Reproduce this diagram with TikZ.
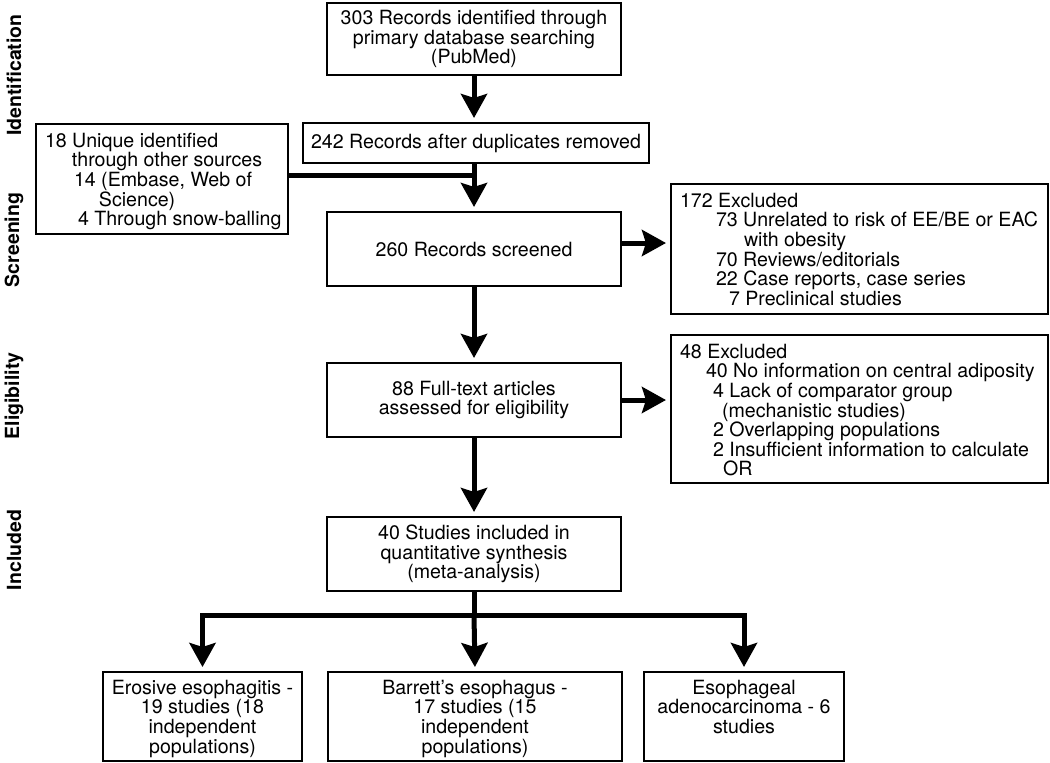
\documentclass[tikz,border=0pt]{standalone}
\usepackage{fontspec}
\setmainfont{TeX Gyre Heros}
\usetikzlibrary{arrows.meta}

\newcommand{\topbox}[3]{\parbox[c][#1][t]{#2}{#3}}

\tikzset{
  box/.style={draw, line width=2pt, inner sep=0pt, align=center,
    font=\fontsize{19.6pt}{19.6pt}\selectfont},
  tbox/.style={box, anchor=north west, inner xsep=9pt, inner ysep=9pt},
  cbox/.style={box, anchor=north west, inner xsep=2pt, inner ysep=8pt},
  arr/.style={line width=5pt, -{Stealth[length=24pt,width=26pt,inset=4pt]}, shorten >=4pt},
  link/.style={line width=5pt},
  phase/.style={rotate=90, font=\bfseries\fontsize{19.5pt}{19.5pt}\selectfont}
}

\begin{document}
\begin{tikzpicture}[x=1pt,y=-1pt]
\useasboundingbox (0,0) rectangle (1050,763);

% Phases
\node[phase] (pid) at (14,75) {Identification};
\node[phase] (pscr) at (14,240) {Screening};
\node[phase] (pelig) at (14,396) {Eligibility};
\node[phase] (pinc) at (14,550) {Included};

% Main column
\node[box, minimum width=294pt, minimum height=72pt] (b303) at (474,39)
  {303 Records identified through\\primary database searching\\(PubMed)};
\node[box, minimum width=346pt, minimum height=40pt] (b242) at (476,143)
  {242 Records after duplicates removed};
\node[box, minimum width=294pt, minimum height=74pt] (b260) at (474,249)
  {260 Records screened};
\node[box, minimum width=294pt, minimum height=74pt] (b88) at (474,400)
  {88 Full-text articles\\assessed for eligibility};
\node[box, minimum width=294pt, minimum height=74pt] (b40) at (474,554)
  {40 Studies included in\\quantitative synthesis\\(meta-analysis)};

% Side boxes
\node[tbox] (bother) at (35,123) {\topbox{92pt}{234pt}{\raggedright
  \mbox{18 Unique identified}\\
  \hspace*{27pt}\mbox{through other sources}\\
  \hspace*{29pt}\mbox{14 (Embase, Web of}\\
  \hspace*{54pt}\mbox{Science)}\\
  \hspace*{33pt}\mbox{4 Through snow-balling}}};
\node[tbox] (b172) at (670,183) {\topbox{112pt}{359pt}{\raggedright
  \mbox{172 Excluded}\\
  \hspace*{36pt}\mbox{73 Unrelated to risk of EE/BE or EAC}\\
  \hspace*{64pt}\mbox{with obesity}\\
  \hspace*{36pt}\mbox{70 Reviews/editorials}\\
  \hspace*{36pt}\mbox{22 Case reports, case series}\\
  \hspace*{49pt}\mbox{7 Preclinical studies}}};
\node[tbox] (b48) at (670,334) {\topbox{130pt}{359pt}{\raggedright
  \mbox{48 Excluded}\\
  \hspace*{26pt}\mbox{40 No information on central adiposity}\\
  \hspace*{33pt}\mbox{4 Lack of comparator group}\\
  \hspace*{42pt}\mbox{(mechanistic studies)}\\
  \hspace*{33pt}\mbox{2 Overlapping populations}\\
  \hspace*{33pt}\mbox{2 Insufficient information to calculate}\\
  \hspace*{43pt}\mbox{OR}}};

% Outcomes
\node[cbox] (bEE) at (102,671) {\topbox{73pt}{195pt}{\centering
  Erosive esophagitis -\\19 studies (18\\independent\\populations)}};
\node[cbox] (bBE) at (327,671) {\topbox{73pt}{290pt}{\centering
  Barrett’s esophagus -\\17 studies (15\\independent\\populations)}};
\node[cbox] (bEAC) at (643,671) {\topbox{73pt}{196pt}{\centering
  Esophageal\\adenocarcinoma - 6\\studies}};

% Arrows
\draw[arr] (b303.south) -- (b303.south |- b242.north);
\draw[arr] (b260.north |- b242.south) -- (b260.north);
\draw[link] ([yshift=4pt]bother.east) -- ([yshift=4pt]bother.east -| b260.north);
\draw[arr] ([yshift=6pt]b260.east) -- ([yshift=6pt]b260.east -| b172.west);
\draw[arr] (b260.south) -- (b88.north);
\draw[arr] (b88.east) -- (b88.east -| b48.west);
\draw[arr] (b88.south) -- (b40.north);

\coordinate (split) at (474,615);
\draw[link] (b40.south) -- (split);
\draw[arr] (split) -| (bEE.north);
\draw[arr] (split) -- (bBE.north);
\draw[arr] (split) -| (bEAC.north);
\end{tikzpicture}
\end{document}
